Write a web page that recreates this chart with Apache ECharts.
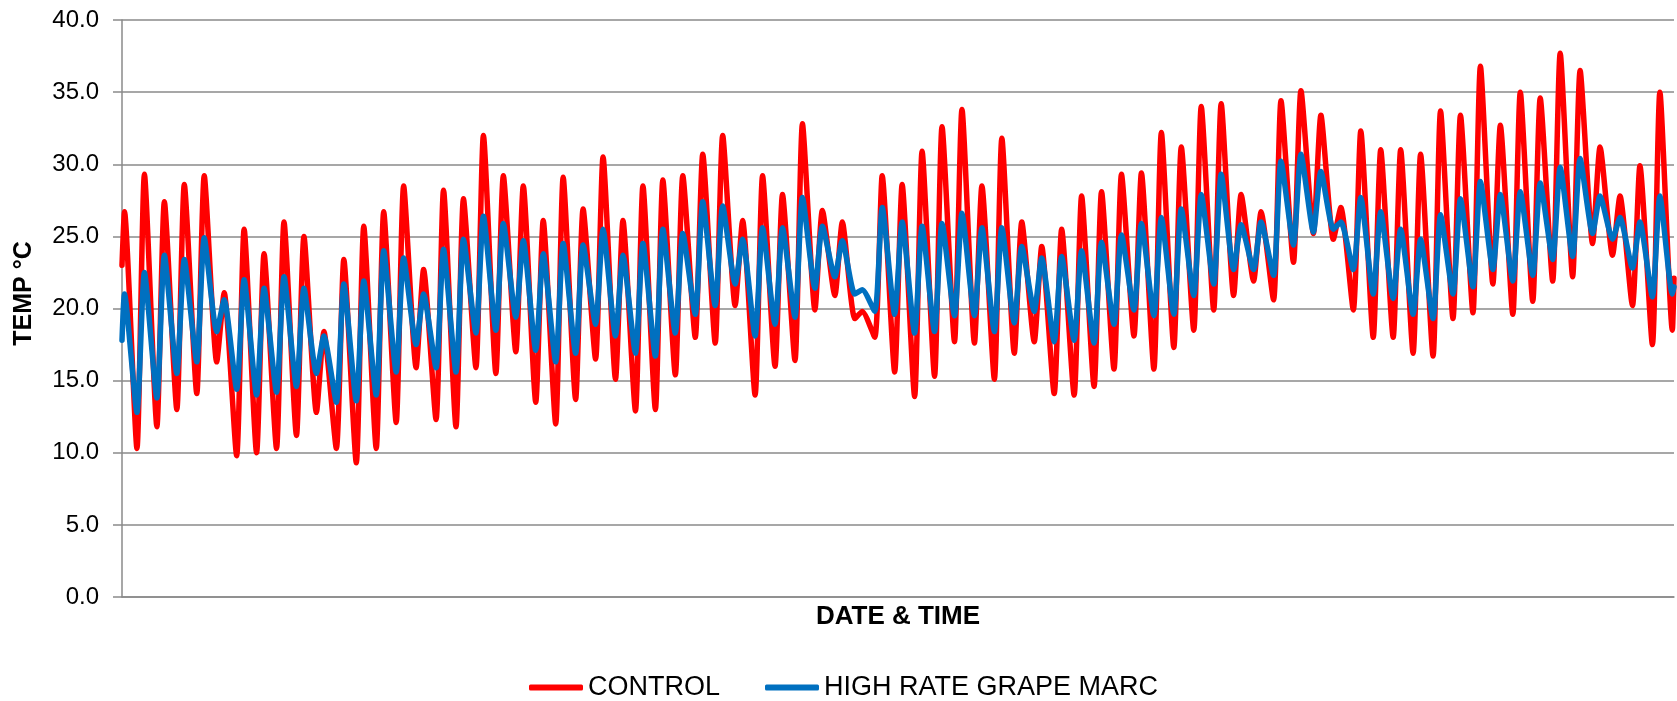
<!DOCTYPE html>
<html>
<head>
<meta charset="utf-8">
<script src="https://cdn.jsdelivr.net/npm/echarts@6/dist/echarts.min.js"></script>
<style>
html,body{margin:0;padding:0;background:#fff;}
#chart{width:1677px;height:701px;}
</style>
</head>
<body>
<div id="chart"></div>
<script>
// Daily readings (hours from logging start). Peaks ~15:00, troughs ~06:00 next day.
const seriesNames = ['CONTROL', 'HIGH RATE GRAPE MARC'];
const yTicks = [0, 5, 10, 15, 20, 25, 30, 35, 40];

const controlStart = 23.0;
const controlEnd = 22.1;
const controlPeak = [
  26.7, 29.3, 27.4, 28.6, 29.2, 21.1, 25.5, 23.8, 26.0, 25.0, 18.4, 23.4, 25.7, 26.7,
  28.5, 22.7, 28.2, 27.6, 32.0, 29.2, 28.5, 26.1, 29.1, 26.9, 30.5, 26.1, 28.5,
  28.9, 29.2, 30.7, 32.0, 26.1, 29.2, 27.9, 32.8, 26.8, 26.0, 19.8, 29.2, 28.6,
  30.9, 32.6, 33.8, 28.5, 31.8, 26.0, 24.3, 25.5, 27.8, 28.1, 29.3, 29.4, 32.2,
  31.2, 34.0, 34.2, 27.9, 26.7, 34.4, 35.1, 33.4, 27.0, 32.3, 31.0, 31.0, 30.7,
  33.7, 33.4, 36.8, 32.7, 35.0, 34.6, 37.7, 36.5, 31.2, 27.8, 29.9, 35.0
];
const controlTrough = [
  10.3, 11.8, 13.0, 14.1, 16.3, 9.8, 10.0, 10.3, 11.2, 12.8, 10.3, 9.3, 10.3,
  12.1, 15.9, 12.3, 11.8, 15.9, 15.5, 17.0, 13.5, 12.0, 13.7, 16.5, 15.1, 12.9,
  13.0, 15.4, 18.0, 17.6, 20.2, 14.0, 16.0, 16.4, 19.9, 20.9, 19.3, 18.0, 15.6,
  13.9, 15.3, 17.7, 17.6, 15.1, 16.9, 17.7, 14.1, 14.0, 14.6, 15.8, 18.1, 15.8,
  17.3, 18.5, 19.9, 20.9, 21.9, 20.6, 23.2, 25.2, 24.8, 19.9, 18.0, 18.0, 16.9,
  16.7, 19.3, 19.7, 21.7, 19.6, 20.5, 21.9, 22.2, 24.5, 23.7, 20.2, 17.5, 18.5
];

const marcStart = 17.8;
const marcEnd = 21.5;
const marcPeak = [
  21.0, 22.5, 23.7, 23.4, 24.9, 20.6, 22.0, 21.4, 22.2, 21.4, 18.1, 21.7, 21.9, 24.0,
  23.5, 21.0, 24.1, 24.8, 26.4, 25.9, 24.7, 23.8, 24.5, 24.4, 25.5, 23.7, 24.5,
  25.5, 25.2, 27.4, 27.1, 24.8, 25.6, 25.6, 27.7, 25.7, 24.7, 21.3, 27.0, 26.0,
  25.7, 25.9, 26.6, 25.6, 25.6, 24.3, 23.5, 23.6, 24.0, 24.6, 25.1, 25.9, 26.3,
  26.9, 27.9, 29.3, 25.8, 26.0, 30.2, 30.7, 29.5, 26.0, 27.7, 26.7, 25.5, 24.8,
  26.5, 27.6, 28.8, 27.9, 28.1, 28.7, 29.8, 30.4, 27.8, 26.3, 26.0, 27.8
];
const marcTrough = [
  12.8, 13.8, 15.5, 16.3, 18.4, 14.4, 14.0, 14.2, 14.6, 15.5, 13.5, 13.6, 14.0,
  15.6, 17.5, 15.9, 15.6, 18.3, 18.5, 19.4, 17.1, 16.3, 16.9, 18.9, 18.1, 16.9,
  16.7, 18.3, 19.6, 20.2, 21.7, 18.1, 18.9, 19.4, 21.4, 22.2, 21.0, 19.8, 19.6,
  18.3, 18.4, 19.5, 19.5, 18.4, 19.0, 19.8, 17.7, 17.8, 17.6, 18.9, 19.9, 19.5,
  19.6, 20.9, 21.7, 22.7, 22.7, 22.3, 24.4, 25.3, 25.5, 22.7, 21.0, 20.7, 19.6,
  19.3, 21.0, 21.5, 22.7, 21.9, 22.3, 23.4, 23.6, 25.2, 24.8, 22.8, 20.8, 21.0
];

// time of day (hours) for the readings
const startHour = 12;
const endHour = 1880;
const peakHour = 15;
const troughHour = 30;

function buildSeries(start, peaks, troughs, end) {
  const pts = [[startHour, start]];
  for (let d = 0; d < peaks.length; d++) {
    pts.push([24 * d + peakHour, peaks[d]]);
    pts.push([24 * d + troughHour, troughs[d]]);
  }
  pts.push([endHour, end]);
  return pts;
}

const controlData = buildSeries(controlStart, controlPeak, controlTrough, controlEnd);
const marcData = buildSeries(marcStart, marcPeak, marcTrough, marcEnd);

const FONT = "'Liberation Sans', Arial, sans-serif";
const NARROW = "'Liberation Sans Narrow', 'Arial Narrow', 'Liberation Sans', sans-serif";
const chart = echarts.init(document.getElementById('chart'), null, {renderer: 'canvas'});
chart.setOption({
  animation: false,
  backgroundColor: '#ffffff',
  grid: {left: 122, right: 3, top: 20, bottom: 104, containLabel: false},
  legend: {
    data: seriesNames,
    bottom: -5,
    left: 524,
    icon: 'roundRect',
    itemWidth: 54,
    itemHeight: 6,
    itemGap: 45,
    textStyle: {fontFamily: FONT, fontSize: 27, color: '#000'}
  },
  xAxis: {
    type: 'value',
    min: startHour,
    max: endHour,
    name: 'DATE & TIME',
    nameLocation: 'middle',
    nameGap: 7,
    nameTextStyle: {fontFamily: FONT, fontSize: 26, fontWeight: 'bold', color: '#000'},
    axisLine: {show: true, lineStyle: {color: '#8a8a8a', width: 1.5}},
    axisTick: {show: false},
    axisLabel: {show: false},
    splitLine: {show: false}
  },
  yAxis: {
    type: 'value',
    min: yTicks[0],
    max: yTicks[yTicks.length - 1],
    interval: yTicks[1] - yTicks[0],
    name: 'TEMP °C',
    nameLocation: 'middle',
    nameRotate: 90,
    nameGap: 85,
    nameTextStyle: {fontFamily: NARROW, fontSize: 25, fontWeight: 'bold', color: '#000', padding: [0, 0, 0, 30]},
    axisLine: {show: true, lineStyle: {color: '#8a8a8a', width: 1.5}},
    axisTick: {show: true, inside: false, length: 9, lineStyle: {color: '#8a8a8a', width: 1.5}},
    axisLabel: {
      margin: 23,
      fontFamily: FONT,
      fontSize: 24,
      color: '#000',
      formatter: v => v.toFixed(1)
    },
    splitLine: {show: true, lineStyle: {color: '#8a8a8a', width: 1.5}}
  },
  series: [
    {
      name: seriesNames[0],
      type: 'line',
      data: controlData,
      showSymbol: false,
      symbol: 'none',
      smooth: 0.2,
      lineStyle: {color: '#ff0000', width: 5.5, join: 'round', cap: 'round'},
      itemStyle: {color: '#ff0000'},
      z: 2
    },
    {
      name: seriesNames[1],
      type: 'line',
      data: marcData,
      showSymbol: false,
      symbol: 'none',
      smooth: 0.2,
      lineStyle: {color: '#0070c0', width: 5.5, join: 'round', cap: 'round'},
      itemStyle: {color: '#0070c0'},
      z: 3
    }
  ]
});
</script>
</body>
</html>
